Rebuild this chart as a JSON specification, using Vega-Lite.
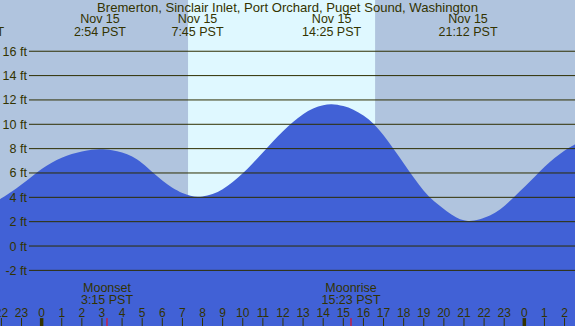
{
  "$schema": "https://vega.github.io/schema/vega-lite/v6.json",
  "width": 575,
  "height": 326,
  "padding": 0,
  "autosize": {"type": "none"},
  "background": "#B0C4DE",
  "config": {"view": {"stroke": null, "fill": "#B0C4DE"}, "text": {"font": "Liberation Sans"}},
  "datasets": {
    "daylight": [{"start": 7.28, "end": 16.58}],
    "tide": [
      {"h": -2.07, "ft": 3.84}, {"h": -1.5, "ft": 4.45}, {"h": -1.0, "ft": 5.05}, {"h": -0.5, "ft": 5.7},
      {"h": 0.0, "ft": 6.33}, {"h": 0.5, "ft": 6.85}, {"h": 1.0, "ft": 7.25}, {"h": 1.5, "ft": 7.55},
      {"h": 2.0, "ft": 7.77}, {"h": 2.5, "ft": 7.91}, {"h": 2.9, "ft": 7.95}, {"h": 3.5, "ft": 7.87},
      {"h": 4.0, "ft": 7.68}, {"h": 4.5, "ft": 7.35}, {"h": 5.0, "ft": 6.8}, {"h": 5.5, "ft": 6.08},
      {"h": 6.0, "ft": 5.38}, {"h": 6.5, "ft": 4.78}, {"h": 7.0, "ft": 4.35}, {"h": 7.4, "ft": 4.13},
      {"h": 7.75, "ft": 4.04}, {"h": 8.0, "ft": 4.07}, {"h": 8.5, "ft": 4.27}, {"h": 9.0, "ft": 4.67},
      {"h": 9.5, "ft": 5.25}, {"h": 10.0, "ft": 5.97}, {"h": 10.5, "ft": 6.8}, {"h": 11.0, "ft": 7.69},
      {"h": 11.5, "ft": 8.58}, {"h": 12.0, "ft": 9.43}, {"h": 12.5, "ft": 10.19}, {"h": 13.0, "ft": 10.83},
      {"h": 13.5, "ft": 11.3}, {"h": 14.0, "ft": 11.57}, {"h": 14.42, "ft": 11.65}, {"h": 15.0, "ft": 11.5},
      {"h": 15.5, "ft": 11.2}, {"h": 16.0, "ft": 10.72}, {"h": 16.5, "ft": 10.05}, {"h": 17.0, "ft": 9.1},
      {"h": 17.5, "ft": 7.97}, {"h": 18.0, "ft": 6.8}, {"h": 18.5, "ft": 5.62}, {"h": 19.0, "ft": 4.55},
      {"h": 19.5, "ft": 3.7}, {"h": 20.0, "ft": 3.05}, {"h": 20.5, "ft": 2.47}, {"h": 20.9, "ft": 2.15},
      {"h": 21.2, "ft": 2.06}, {"h": 21.5, "ft": 2.09}, {"h": 21.79, "ft": 2.2}, {"h": 22.29, "ft": 2.5},
      {"h": 22.79, "ft": 3.0}, {"h": 23.28, "ft": 3.7}, {"h": 23.78, "ft": 4.5}, {"h": 24.28, "ft": 5.3},
      {"h": 24.78, "ft": 6.15}, {"h": 25.27, "ft": 6.9}, {"h": 25.77, "ft": 7.55}, {"h": 26.2, "ft": 8.05},
      {"h": 26.52, "ft": 8.35}
    ],
    "levels": [
      {"ft": -2, "label": "-2 ft"}, {"ft": 0, "label": "0 ft"}, {"ft": 2, "label": "2 ft"},
      {"ft": 4, "label": "4 ft"}, {"ft": 6, "label": "6 ft"}, {"ft": 8, "label": "8 ft"},
      {"ft": 10, "label": "10 ft"}, {"ft": 12, "label": "12 ft"}, {"ft": 14, "label": "14 ft"},
      {"ft": 16, "label": "16 ft"}
    ],
    "events": [
      {"h": -3.33, "date": "Nov 14", "time": "20:40 PST"},
      {"h": 2.9, "date": "Nov 15", "time": "2:54 PST"},
      {"h": 7.75, "date": "Nov 15", "time": "7:45 PST"},
      {"h": 14.42, "date": "Nov 15", "time": "14:25 PST"},
      {"h": 21.2, "date": "Nov 15", "time": "21:12 PST"}
    ],
    "moon": [
      {"h": 3.25, "event": "Moonset", "time": "3:15 PST"},
      {"h": 15.383, "event": "Moonrise", "time": "15:23 PST"}
    ],
    "hours": [
      {"h": -2, "hour": 22}, {"h": -1, "hour": 23}, {"h": 0, "hour": 0}, {"h": 1, "hour": 1},
      {"h": 2, "hour": 2}, {"h": 3, "hour": 3}, {"h": 4, "hour": 4}, {"h": 5, "hour": 5},
      {"h": 6, "hour": 6}, {"h": 7, "hour": 7}, {"h": 8, "hour": 8}, {"h": 9, "hour": 9},
      {"h": 10, "hour": 10}, {"h": 11, "hour": 11}, {"h": 12, "hour": 12}, {"h": 13, "hour": 13},
      {"h": 14, "hour": 14}, {"h": 15, "hour": 15}, {"h": 16, "hour": 16}, {"h": 17, "hour": 17},
      {"h": 18, "hour": 18}, {"h": 19, "hour": 19}, {"h": 20, "hour": 20}, {"h": 21, "hour": 21},
      {"h": 22, "hour": 22}, {"h": 23, "hour": 23}, {"h": 24, "hour": 0}, {"h": 25, "hour": 1},
      {"h": 26, "hour": 2}
    ],
    "title": [{"h": 12.225, "text": "Bremerton, Sinclair Inlet, Port Orchard, Puget Sound, Washington"}]
  },
  "layer": [
    {
      "data": {"name": "daylight"},
      "mark": {"type": "rect", "color": "#DFF8FF"},
      "encoding": {
        "x": {"field": "start", "type": "quantitative", "scale": {"domain": [-2.07, 26.52], "nice": false, "zero": false}, "axis": null},
        "x2": {"field": "end"},
        "y": {"datum": 20.21, "type": "quantitative", "scale": {"domain": [-6.57, 20.21], "nice": false, "zero": false}, "axis": null},
        "y2": {"datum": -6.57}
      }
    },
    {
      "data": {"name": "tide"},
      "mark": {"type": "area", "color": "#4161D6", "interpolate": "catmull-rom", "opacity": 1},
      "encoding": {
        "x": {"field": "h", "type": "quantitative", "scale": {"domain": [-2.07, 26.52], "nice": false, "zero": false}, "axis": null},
        "y": {"field": "ft", "type": "quantitative", "scale": {"domain": [-6.57, 20.21], "nice": false, "zero": false}, "axis": null},
        "y2": {"datum": -6.57}
      }
    },
    {
      "data": {"name": "levels"},
      "mark": {"type": "rule", "color": "#2E2E00", "strokeWidth": 1},
      "encoding": {
        "x": {"datum": -0.63, "type": "quantitative"},
        "x2": {"datum": 26.7},
        "y": {"field": "ft", "type": "quantitative"}
      }
    },
    {
      "data": {"name": "levels"},
      "mark": {"type": "text", "align": "right", "baseline": "alphabetic", "dy": 4.5, "fontSize": 12.5, "color": "#333300"},
      "encoding": {
        "x": {"datum": -0.73, "type": "quantitative"},
        "y": {"field": "ft", "type": "quantitative"},
        "text": {"field": "label"}
      }
    },
    {
      "data": {"name": "title"},
      "mark": {"type": "text", "align": "center", "baseline": "alphabetic", "fontSize": 13.1, "color": "#333300"},
      "encoding": {
        "x": {"field": "h", "type": "quantitative"},
        "y": {"datum": 19.25, "type": "quantitative"},
        "text": {"field": "text"}
      }
    },
    {
      "data": {"name": "events"},
      "mark": {"type": "text", "align": "center", "baseline": "alphabetic", "fontSize": 12.5, "color": "#333300"},
      "encoding": {
        "x": {"field": "h", "type": "quantitative"},
        "y": {"datum": 18.3, "type": "quantitative"},
        "text": {"field": "date"}
      }
    },
    {
      "data": {"name": "events"},
      "mark": {"type": "text", "align": "center", "baseline": "alphabetic", "fontSize": 12.5, "color": "#333300"},
      "encoding": {
        "x": {"field": "h", "type": "quantitative"},
        "y": {"datum": 17.28, "type": "quantitative"},
        "text": {"field": "time"}
      }
    },
    {
      "data": {"name": "moon"},
      "mark": {"type": "text", "align": "center", "baseline": "alphabetic", "fontSize": 12.5, "color": "#333300"},
      "encoding": {
        "x": {"field": "h", "type": "quantitative"},
        "y": {"datum": -3.755, "type": "quantitative"},
        "text": {"field": "event"}
      }
    },
    {
      "data": {"name": "moon"},
      "mark": {"type": "text", "align": "center", "baseline": "alphabetic", "fontSize": 12.5, "color": "#333300"},
      "encoding": {
        "x": {"field": "h", "type": "quantitative"},
        "y": {"datum": -4.766, "type": "quantitative"},
        "text": {"field": "time"}
      }
    },
    {
      "data": {"name": "moon"},
      "mark": {"type": "rule", "color": "#FF0000", "strokeWidth": 1},
      "encoding": {
        "x": {"field": "h", "type": "quantitative"},
        "y": {"datum": -5.92, "type": "quantitative"},
        "y2": {"datum": -6.57}
      }
    },
    {
      "data": {"name": "hours"},
      "mark": {"type": "rule", "color": "#333300"},
      "encoding": {
        "x": {"field": "h", "type": "quantitative"},
        "y": {"datum": -5.92, "type": "quantitative"},
        "y2": {"datum": -6.57},
        "strokeWidth": {"condition": {"test": "datum.hour == 0", "value": 3.5}, "value": 1}
      }
    },
    {
      "data": {"name": "hours"},
      "mark": {"type": "text", "align": "center", "baseline": "alphabetic", "fontSize": 12, "color": "#333300"},
      "encoding": {
        "x": {"field": "h", "type": "quantitative"},
        "y": {"datum": -5.81, "type": "quantitative"},
        "text": {"field": "hour", "type": "nominal"}
      }
    }
  ]
}
